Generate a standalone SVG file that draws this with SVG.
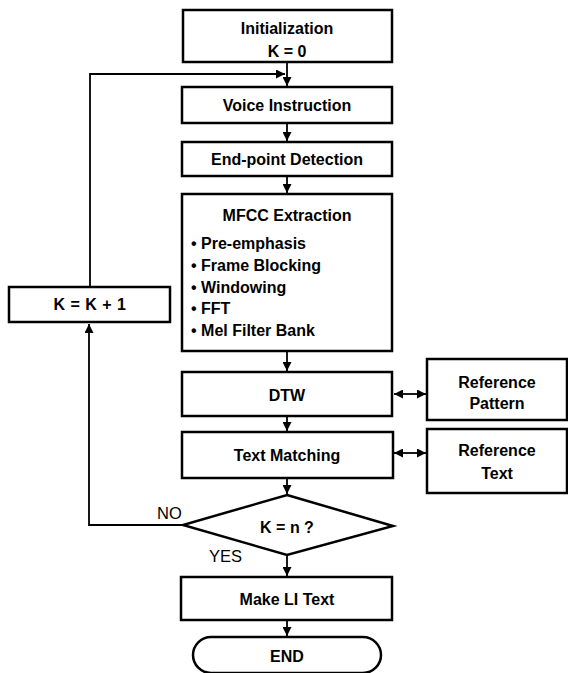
<svg xmlns="http://www.w3.org/2000/svg" width="568" height="673" viewBox="0 0 568 673">
<style>
.box{fill:#fff;stroke:#000;stroke-width:2.5}
.t{font-family:"Liberation Sans",Arial,sans-serif;font-weight:bold;font-size:16px;fill:#000;text-anchor:middle}
.l{font-family:"Liberation Sans",Arial,sans-serif;font-weight:bold;font-size:16px;fill:#000}
.n{font-family:"Liberation Sans",Arial,sans-serif;font-size:16.5px;fill:#000}
.c{fill:none;stroke:#000;stroke-width:1.8}
</style>
<defs>
<marker id="ah" viewBox="0 0 10 10" refX="10" refY="5" markerWidth="5" markerHeight="5" orient="auto-start-reverse" markerUnits="strokeWidth">
<path d="M0,0 L10,5 L0,10 z" fill="#000"/>
</marker>
</defs>
<rect width="568" height="673" fill="#fff"/>
<g id="connectors">
<path class="c" d="M287,62 V86" marker-end="url(#ah)"/>
<path class="c" d="M90,287 V74 H285" marker-end="url(#ah)"/>
<path class="c" d="M287,123 V141" marker-end="url(#ah)"/>
<path class="c" d="M287,176 V193" marker-end="url(#ah)"/>
<path class="c" d="M287,351 V371" marker-end="url(#ah)"/>
<path class="c" d="M287,416 V431" marker-end="url(#ah)"/>
<path class="c" d="M394,394 H426" marker-start="url(#ah)" marker-end="url(#ah)"/>
<path class="c" d="M394,453 H426" marker-start="url(#ah)" marker-end="url(#ah)"/>
<path class="c" d="M287,478 V494" marker-end="url(#ah)"/>
<path class="c" d="M183,525 H89 V324" marker-end="url(#ah)"/>
<path class="c" d="M287,555 V576" marker-end="url(#ah)"/>
<path class="c" d="M287,620 V636" marker-end="url(#ah)"/>
</g>
<g id="init">
<rect class="box" x="183" y="10" width="209" height="52"/>
<text class="t" x="287" y="34">Initialization</text>
<text class="t" x="287" y="57">K = 0</text>
</g>
<g id="voice">
<rect class="box" x="182" y="87" width="210" height="36"/>
<text class="t" x="287" y="111">Voice Instruction</text>
</g>
<g id="endpoint">
<rect class="box" x="182" y="142" width="210" height="34"/>
<text class="t" x="287" y="165">End-point Detection</text>
</g>
<g id="mfcc">
<rect class="box" x="182" y="194" width="210" height="157"/>
<text class="t" x="287" y="221">MFCC Extraction</text>
<text class="l" x="191" y="249">• Pre-emphasis</text>
<text class="l" x="191" y="271">• Frame Blocking</text>
<text class="l" x="191" y="293">• Windowing</text>
<text class="l" x="191" y="314">• FFT</text>
<text class="l" x="191" y="336">• Mel Filter Bank</text>
</g>
<g id="kinc">
<rect class="box" x="9" y="287" width="161" height="35"/>
<text class="t" x="90" y="310" font-size="16.5" letter-spacing="0.5">K = K + 1</text>
</g>
<g id="dtw">
<rect class="box" x="182" y="372" width="210" height="44"/>
<text class="t" x="287" y="401">DTW</text>
</g>
<g id="refpattern">
<rect class="box" x="427" y="359" width="140" height="61"/>
<text class="t" x="497" y="388">Reference</text>
<text class="t" x="497" y="409">Pattern</text>
</g>
<g id="textmatch">
<rect class="box" x="182" y="432" width="211" height="46"/>
<text class="t" x="287" y="461">Text Matching</text>
</g>
<g id="reftext">
<rect class="box" x="427" y="429" width="140" height="64"/>
<text class="t" x="497" y="456">Reference</text>
<text class="t" x="497" y="479">Text</text>
</g>
<g id="decision">
<polygon class="box" points="287,495 393,526 287,555 183,525"/>
<text class="t" x="287" y="533">K = n ?</text>
<text class="n" x="157" y="519">NO</text>
<text class="n" x="209" y="562">YES</text>
</g>
<g id="makeli">
<rect class="box" x="181" y="577" width="211" height="43"/>
<text class="t" x="287" y="605">Make LI Text</text>
</g>
<g id="end">
<rect class="box" x="193" y="637" width="188" height="36" rx="18" ry="18"/>
<text class="t" x="287" y="662">END</text>
</g>
</svg>
